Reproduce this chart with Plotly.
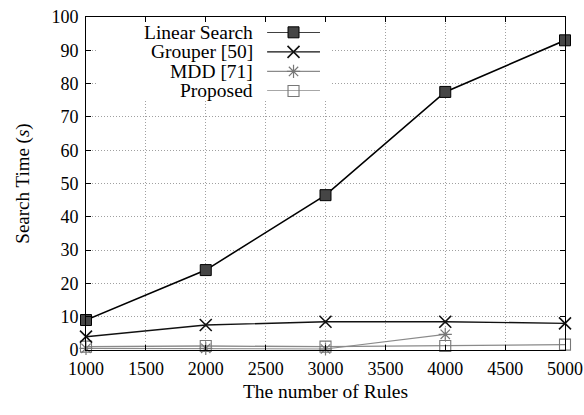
import plotly.graph_objects as go

rules = [1000, 2000, 3000, 4000, 5000]
linear_search = [9, 24, 46.5, 77.5, 93]
grouper = [4, 7.5, 8.5, 8.5, 8]
mdd_rules = [1000, 2000, 3000, 4000]
mdd = [0.5, 0.5, 0.3, 4.7]
proposed = [1.0, 1.2, 1.0, 1.2, 1.6]

x_ticks = [1000, 1500, 2000, 2500, 3000, 3500, 4000, 4500, 5000]
y_ticks = list(range(0, 101, 10))

FONT = "Liberation Serif"

series = [
    dict(name="Linear Search", x=rules, y=linear_search, lc="#000000", lw=1.6,
         sym="square", ms=11, mc="#454545", mlc="#000000", mlw=1),
    dict(name="Grouper [50]", x=rules, y=grouper, lc="#111111", lw=1.4,
         sym="x-thin", ms=12, mc="#111111", mlc="#111111", mlw=1.6),
    dict(name="MDD [71]", x=mdd_rules, y=mdd, lc="#8a8a8a", lw=1.1,
         sym="asterisk", ms=11, mc="#777777", mlc="#777777", mlw=1.2),
    dict(name="Proposed", x=rules, y=proposed, lc="#8a8a8a", lw=1.3,
         sym="square-open", ms=11, mc="#777777", mlc="#777777", mlw=1.1),
]

fig = go.Figure()
for s in reversed(series):
    fig.add_trace(go.Scatter(
        x=s["x"], y=s["y"], mode="lines+markers", name=s["name"],
        line=dict(color=s["lc"], width=s["lw"]),
        marker=dict(symbol=s["sym"], size=s["ms"], color=s["mc"],
                    line=dict(color=s["mlc"], width=s["mlw"])),
        cliponaxis=False, showlegend=False, xaxis="x", yaxis="y"))

# legend background (white box hiding the grid)
fig.add_trace(go.Scatter(
    x=[0, 1, 1, 0, 0], y=[0, 0, 1, 1, 0], mode="lines", fill="toself",
    fillcolor="white", line=dict(width=0, color="white"),
    showlegend=False, hoverinfo="skip", xaxis="x2", yaxis="y2"))

# custom legend (symbol to the right of right-aligned text)
for i, s in enumerate(series):
    fig.add_trace(go.Scatter(
        x=[0, 1], y=[i, i], mode="lines", line=dict(color=s["lc"], width=s["lw"]),
        showlegend=False, hoverinfo="skip", xaxis="x3", yaxis="y3", cliponaxis=False))
    fig.add_trace(go.Scatter(
        x=[0.5], y=[i], mode="markers",
        marker=dict(symbol=s["sym"], size=s["ms"], color=s["mc"],
                    line=dict(color=s["mlc"], width=s["mlw"])),
        showlegend=False, hoverinfo="skip", xaxis="x3", yaxis="y3", cliponaxis=False))
    fig.add_annotation(text=s["name"], xref="paper", yref="y3", x=0.353, y=i,
                       xanchor="right", yanchor="middle", showarrow=False,
                       font=dict(family=FONT, size=19.5, color="black"))

axis_common = dict(showline=True, linecolor="black", linewidth=1, mirror="ticks",
                   ticks="inside", ticklen=5, tickcolor="black", tickwidth=1,
                   showgrid=True, gridcolor="#a0a0a0", gridwidth=1, griddash="1px,2px",
                   zeroline=False, automargin=False,
                   tickfont=dict(family=FONT, size=18, color="black"))

fig.update_layout(
    width=584, height=415,
    margin=dict(l=86, r=19, t=17, b=65),
    paper_bgcolor="white", plot_bgcolor="white",
    xaxis=dict(range=[1000, 5000], tickvals=x_ticks, **axis_common,
               ticklabelstandoff=2,
               title=dict(text="The number of Rules", standoff=6,
                          font=dict(family=FONT, size=19.5, color="black"))),
    yaxis=dict(range=[0, 100], tickvals=y_ticks, **axis_common,
               ticklabelstandoff=3,
               title=dict(text="Search Time (<i>s</i>)", standoff=16,
                          font=dict(family=FONT, size=19, color="black"))),
    xaxis2=dict(domain=[0.025, 0.511], range=[0, 1], visible=False, anchor="y2"),
    yaxis2=dict(domain=[0.754, 0.982], range=[0, 1], visible=False, anchor="x2"),
    xaxis3=dict(domain=[0.378, 0.4885], range=[0, 1], visible=False, anchor="y3"),
    yaxis3=dict(domain=[0.778, 0.954], range=[3, 0], visible=False, anchor="x3"),
)

fig.write_html("out.html")
